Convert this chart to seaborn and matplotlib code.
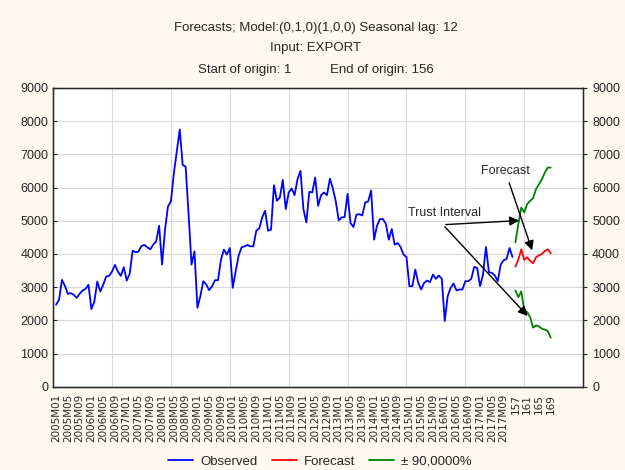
import numpy as np
import matplotlib
matplotlib.use('Agg')
import matplotlib.pyplot as plt
import seaborn as sns

# observed series (index 1..156)
observed = [2470, 2620, 3220, 3040, 2800, 2820, 2770, 2680, 2800, 2900, 2950, 3070,
            2340, 2570, 3170, 2870, 3070, 3320, 3340, 3470, 3670, 3470, 3340, 3600,
            3200, 3400, 4100, 4050, 4070, 4240, 4270, 4200, 4140, 4280, 4380, 4850,
            3680, 4730, 5430, 5580, 6430, 7080, 7750, 6680, 6630, 5200, 3680, 4080,
            2380, 2730, 3180, 3080, 2910, 3030, 3210, 3210, 3830, 4130, 3980, 4180,
            2980, 3480, 3950, 4200, 4230, 4270, 4230, 4230, 4700, 4770, 5100, 5300,
            4700, 4730, 6070, 5600, 5700, 6230, 5350, 5850, 5970, 5770, 6250, 6500,
            5350, 4950, 5870, 5850, 6300, 5450, 5770, 5850, 5770, 6270, 5970, 5580,
            5010, 5100, 5110, 5810, 4930, 4810, 5180, 5200, 5160, 5550, 5580, 5910,
            4430, 4850, 5050, 5050, 4910, 4430, 4750, 4280, 4330, 4210, 3980, 3910,
            3030, 3030, 3530, 3130, 2930, 3130, 3200, 3150, 3380, 3250, 3350, 3250,
            1980, 2730, 2980, 3110, 2900, 2930, 2930, 3180, 3180, 3250, 3610, 3580,
            3030, 3380, 4210, 3450, 3430, 3350, 3180, 3680, 3810, 3850, 4180, 3910]

# forecast and 90% limits (index 157..169)
forecast = [3620, 3830, 4140, 3820, 3900, 3790, 3720, 3900, 3960, 4000, 4090, 4140, 4020]
upper = [4350, 4900, 5400, 5250, 5500, 5600, 5680, 5950, 6100, 6250, 6450, 6600, 6600]
lower = [2900, 2700, 2870, 2300, 2250, 2100, 1780, 1850, 1820, 1750, 1720, 1680, 1480]

years = list(range(2005, 2018))
months = [1, 5, 9]
tail_labels = ['157', '161', '165', '169']

obs_x = np.arange(1, len(observed) + 1)
fc_x = np.arange(len(observed) + 1, len(observed) + len(forecast) + 1)
tick_labels = [f"{y}M{m:02d}" for y in years for m in months] + tail_labels
tick_pos = np.arange(1, 4 * len(tick_labels), 4)

sns.set_style('white')
plt.rcParams['font.family'] = ['Liberation Sans', 'DejaVu Sans']

bg = '#fdf9ef'
fig = plt.figure(figsize=(6.25, 4.7), dpi=100, facecolor=bg)
ax = fig.add_axes([0.085, 0.177, 0.848, 0.636])
ax.set_facecolor('white')

sns.lineplot(x=obs_x, y=observed, color='#0000ff', lw=1.3, ax=ax, label='Observed')
sns.lineplot(x=fc_x, y=forecast, color='#ff0000', lw=1.3, ax=ax, label='Forecast')
sns.lineplot(x=fc_x, y=upper, color='#008000', lw=1.3, ax=ax, label='\u00b1 90,0000%')
sns.lineplot(x=fc_x, y=lower, color='#008000', lw=1.3, ax=ax)

ax.set_xlim(0, 180)
ax.set_ylim(0, 9000)
ax.set_yticks(np.arange(0, 9001, 1000))
ax.set_xticks(tick_pos)
ax.set_xticklabels(tick_labels, rotation=90, fontsize=7.5, family='DejaVu Sans')
ax.set_xticks(np.arange(20, 180, 20), minor=True)
ax.tick_params(axis='x', which='major', length=0, pad=5)
ax.tick_params(axis='x', which='minor', length=4, direction='in', color='black')
ax.tick_params(axis='y', length=3, direction='in', labelsize=9)
ax.grid(False)
ax.grid(True, axis='x', which='minor', color='#d8d8d8', lw=0.8)
ax.grid(True, axis='y', which='major', color='#d8d8d8', lw=0.8)
for s in ax.spines.values():
    s.set_color('black')
    s.set_linewidth(1)

ax2 = ax.twinx()
ax2.set_ylim(0, 9000)
ax2.set_yticks(np.arange(0, 9001, 1000))
ax2.tick_params(axis='y', length=3, direction='out', labelsize=9)
ax2.grid(False)

ax.get_legend().remove()
handles, labels = ax.get_legend_handles_labels()
fig.legend(handles, labels, loc='center', bbox_to_anchor=(0.512, 0.018), ncol=3,
           frameon=False, fontsize=9.5, handlelength=1.9, handletextpad=0.5,
           columnspacing=1.1)

arrow = dict(arrowstyle='-|>', color='black', lw=1, mutation_scale=14)
ax.annotate('Forecast', xy=(163.0, 4030), xytext=(153.5, 6320), arrowprops=arrow,
            fontsize=9, ha='center', va='bottom')
ax.text(120.4, 5230, 'Trust Interval', fontsize=9, ha='left', va='center')
ax.annotate('', xy=(159.2, 5010), xytext=(132.4, 4880), arrowprops=arrow)
ax.annotate('', xy=(161.8, 2070), xytext=(132.4, 4880), arrowprops=arrow)

fig.text(0.505, 1 - 28 / 470, 'Forecasts; Model:(0,1,0)(1,0,0) Seasonal lag: 12',
         ha='center', va='center', fontsize=9.5)
fig.text(0.505, 1 - 48 / 470, 'Input: EXPORT', ha='center', va='center', fontsize=9.5)
fig.text(198 / 625, 1 - 70 / 470, 'Start of origin: 1', ha='left', va='center', fontsize=9.5)
fig.text(330 / 625, 1 - 70 / 470, 'End of origin: 156', ha='left', va='center', fontsize=9.5)

fig.savefig('out.png', dpi=100, facecolor=bg)
